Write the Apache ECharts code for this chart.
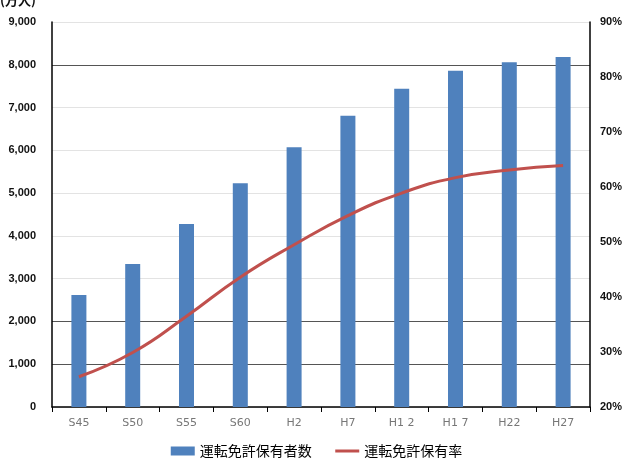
<!DOCTYPE html>
<html>
<head>
<meta charset="utf-8">
<script src="https://cdn.jsdelivr.net/npm/echarts@6/dist/echarts.min.js"></script>
<style>
html, body { margin: 0; padding: 0; background: #fff; }
#main { width: 633px; height: 462px; }
</style>
</head>
<body>
<div id="main"></div>
<script>
// 年度
var categories = ['S45', 'S50', 'S55', 'S60', 'H2', 'H7', 'H1 2', 'H1 7', 'H22', 'H27'];
// 運転免許保有者数（万人）
var holders = [2620, 3340, 4280, 5230, 6070, 6810, 7440, 7860, 8060, 8180];
// 運転免許保有率（%）
var holdRate = [25.5, 29.9, 36.5, 43.6, 49.5, 54.8, 58.9, 61.7, 63.1, 63.9];

var myChart = echarts.init(document.getElementById('main'));

var light = '#e3e3e3', dark = '#555';

myChart.setOption({
    animation: false,
    graphic: [{
        type: 'text',
        left: 0,
        top: -6,
        style: { text: '(万人)', font: 'bold 13px "Noto Sans CJK JP"', fill: '#111' }
    }],
    grid: {
        left: 52,
        right: 43,
        top: 22,
        bottom: 55
    },
    legend: {
        bottom: -1,
        left: 'center',
        itemWidth: 24,
        itemHeight: 9,
        itemGap: 22,
        textStyle: { fontFamily: 'Noto Sans CJK JP', fontSize: 14, color: '#000' },
        data: [
            { name: '運転免許保有者数', icon: 'rect' },
            { name: '運転免許保有率', itemStyle: { opacity: 0 }, lineStyle: { width: 3, color: '#C0504D' } }
        ]
    },
    xAxis: {
        type: 'category',
        data: categories,
        axisLine: { lineStyle: { color: '#000', width: 1.5 } },
        axisTick: { show: true, alignWithLabel: false, length: 5, lineStyle: { color: '#000' } },
        axisLabel: { color: '#777', fontSize: 11, fontFamily: 'DejaVu Sans', margin: 11 }
    },
    yAxis: [{
        type: 'value',
        min: 0,
        max: 9000,
        interval: 1000,
        axisLine: { show: true, lineStyle: { color: '#000', width: 1.5 } },
        axisTick: { show: false },
        axisLabel: {
            color: '#111', fontWeight: 'bold', fontSize: 11, fontFamily: 'Liberation Sans', margin: 16,
            formatter: function(v) { return v.toLocaleString('en-US'); }
        },
        splitLine: {
            show: true,
            lineStyle: { color: [light, dark, dark, light, light, light, light, light, dark, light], width: 1 }
        }
    }, {
        type: 'value',
        min: 20,
        max: 90,
        interval: 10,
        axisLine: { show: true, lineStyle: { color: '#000', width: 1.5 } },
        axisTick: { show: false },
        axisLabel: {
            color: '#111', fontWeight: 'bold', fontSize: 11, fontFamily: 'Liberation Sans', margin: 10,
            formatter: '{value}%'
        },
        splitLine: { show: false }
    }],
    series: [{
        name: '運転免許保有者数',
        type: 'bar',
        barWidth: 15,
        itemStyle: { color: '#4F81BD' },
        data: holders
    }, {
        name: '運転免許保有率',
        type: 'line',
        yAxisIndex: 1,
        smooth: true,
        showSymbol: false,
        symbol: 'none',
        lineStyle: { color: '#C0504D', width: 3 },
        itemStyle: { color: '#C0504D' },
        data: holdRate
    }]
});
</script>
</body>
</html>
